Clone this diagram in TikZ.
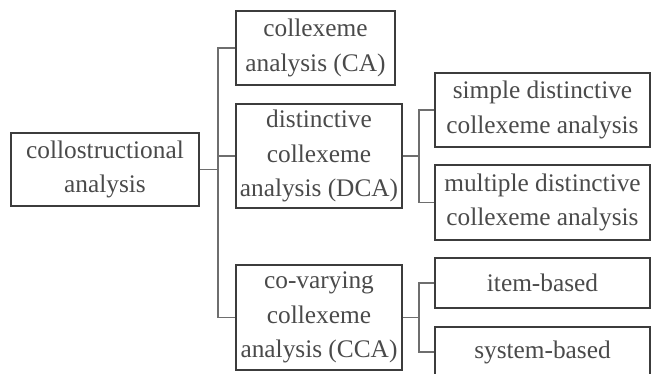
\documentclass[tikz,border=0pt]{standalone}
\usepackage{fontspec}
\setmainfont{Liberation Serif}
\usepackage{xcolor}
\definecolor{tInk}{HTML}{4A4A4A}
\definecolor{tFrame}{HTML}{3C3C3C}
\definecolor{tLink}{HTML}{6E6E6E}
\usepackage{tikz}
\usetikzlibrary{positioning, calc}

\tikzset{
  box/.style={draw=tFrame, line width=1.5pt, inner sep=0pt, align=center,
    text=tInk, font=\fontsize{19}{26}\selectfont},
  link/.style={draw=tLink, line width=0.8pt}
}

\begin{document}
\begin{tikzpicture}[x=0.75pt, y=-0.75pt]
\clip (0,0) rectangle (652,374);

\node[box, minimum width=141pt, minimum height=54.75pt] (root) at (105,169.5)
  {collostructional\\analysis};

\node[box, minimum width=119.25pt, minimum height=55.5pt] (ca) at (315.5,48)
  {collexeme\\analysis (CA)};
\node[box, minimum width=124.5pt, minimum height=78pt] (dca) at (319,156)
  {distinctive\\collexeme\\analysis (DCA)};
\node[box, minimum width=124.5pt, minimum height=78.75pt] (cca) at (319,317.5)
  {co-varying\\collexeme\\analysis (CCA)};

\node[box, minimum width=161.25pt, minimum height=55.5pt] (sdca) at (542.5,110)
  {simple distinctive\\collexeme analysis};
\node[box, minimum width=161.25pt, minimum height=56.25pt] (mdca) at (542.5,202.5)
  {multiple distinctive\\collexeme analysis};
\node[box, minimum width=161.25pt, minimum height=37.5pt] (item) at (542.5,283)
  {item-based};
\node[box, minimum width=161.25pt, minimum height=37.5pt] (sys) at (542.5,352)
  {system-based};

% branch points
\coordinate (j0) at ($(root.east)+(18,0)$);
\coordinate (j1) at ($(dca.east)+(16,0)$);
\coordinate (j2) at ($(cca.east)+(16,0)$);

\draw[link] (root.east) -- (j0);
\draw[link] (j0) |- (ca.west);
\draw[link] (j0) |- (cca.west);
\draw[link] (j0 |- dca.west) -- (dca.west);

\draw[link] (dca.east) -- (j1);
\draw[link] (j1) |- (sdca.west);
\draw[link] (j1) |- (mdca.west);

\draw[link] (cca.east) -- (j2);
\draw[link] (j2) |- (item.west);
\draw[link] (j2) |- (sys.west);
\end{tikzpicture}
\end{document}
